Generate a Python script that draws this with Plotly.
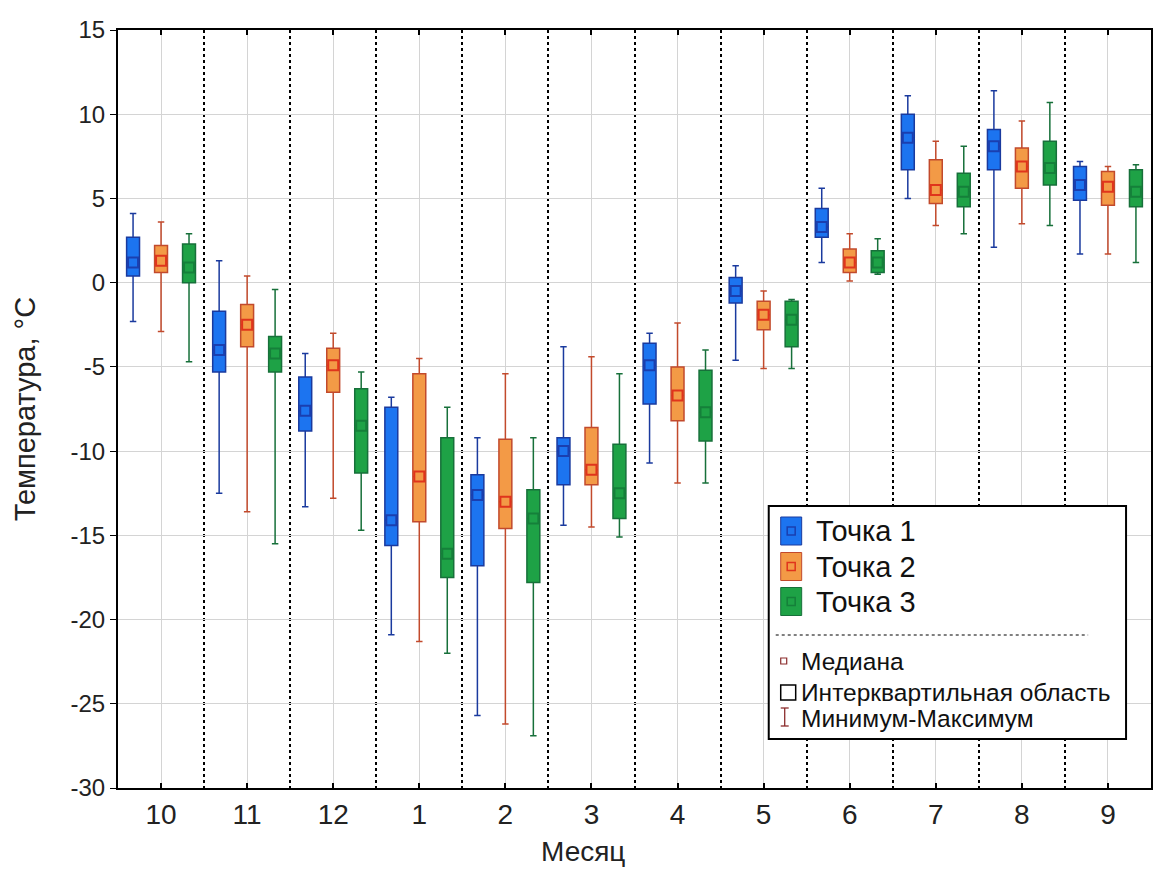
import plotly.graph_objects as go

months = ["10", "11", "12", "1", "2", "3", "4", "5", "6", "7", "8", "9"]
series_names = ["Точка 1", "Точка 2", "Точка 3"]
y_ticks = [15, 10, 5, 0, -5, -10, -15, -20, -25, -30]

# Точка 1
p1_min = [-2.3, -12.5, -13.3, -20.9, -25.7, -14.4, -10.7, -4.6, 1.2, 5.0, 2.1, 1.7]
p1_q1 = [0.4, -5.3, -8.8, -15.6, -16.8, -12.0, -7.2, -1.2, 2.7, 6.7, 6.7, 4.9]
p1_med = [1.2, -4.0, -7.6, -14.1, -12.6, -10.0, -4.9, -0.5, 3.3, 8.6, 8.1, 5.8]
p1_q3 = [2.7, -1.7, -5.6, -7.4, -11.4, -9.2, -3.6, 0.3, 4.4, 10.0, 9.1, 6.9]
p1_max = [4.1, 1.3, -4.2, -6.8, -9.2, -3.8, -3.0, 1.0, 5.6, 11.1, 11.4, 7.2]

# Точка 2
p2_min = [-2.9, -13.6, -12.8, -21.3, -26.2, -14.5, -11.9, -5.1, 0.1, 3.4, 3.5, 1.7]
p2_q1 = [0.6, -3.8, -6.5, -14.2, -14.6, -12.0, -8.2, -2.8, 0.6, 4.7, 5.6, 4.6]
p2_med = [1.3, -2.5, -4.9, -11.5, -13.0, -11.1, -6.7, -1.9, 1.2, 5.5, 6.9, 5.7]
p2_q3 = [2.2, -1.3, -3.9, -5.4, -9.3, -8.6, -5.0, -1.1, 2.0, 7.3, 8.0, 6.6]
p2_max = [3.6, 0.4, -3.0, -4.5, -5.4, -4.4, -2.4, -0.5, 2.9, 8.4, 9.6, 6.9]

# Точка 3
p3_min = [-4.7, -15.5, -14.7, -22.0, -26.9, -15.1, -11.9, -5.1, 0.5, 2.9, 3.4, 1.2]
p3_q1 = [0.0, -5.3, -11.3, -17.5, -17.8, -14.0, -9.4, -3.8, 0.6, 4.5, 5.8, 4.5]
p3_med = [0.9, -4.2, -8.5, -16.1, -14.0, -12.5, -7.7, -2.2, 1.2, 5.4, 6.8, 5.4]
p3_q3 = [2.3, -3.2, -6.3, -9.2, -12.3, -9.6, -5.2, -1.1, 1.9, 6.5, 8.4, 6.7]
p3_max = [2.9, -0.4, -5.3, -7.4, -9.2, -5.4, -4.0, -1.0, 2.6, 8.1, 10.7, 7.0]

fill_colors = ["#1c74f0", "#f39a46", "#1ea246"]
line_colors = ["#1a3a9e", "#c24a2c", "#17703a"]
median_edge = ["#1a3fb0", "#e0341c", "#15803a"]

offsets = [-0.325, 0.0, 0.325]
data = [
    (p1_min, p1_q1, p1_med, p1_q3, p1_max),
    (p2_min, p2_q1, p2_med, p2_q3, p2_max),
    (p3_min, p3_q1, p3_med, p3_q3, p3_max),
]

fig = go.Figure()
for k, (mn, q1, md, q3, mx) in enumerate(data):
    xs = [i + offsets[k] for i in range(len(months))]
    fig.add_trace(go.Box(
        x=xs, q1=q1, median=md, q3=q3, lowerfence=mn, upperfence=mx,
        width=0.15, whiskerwidth=0.5,
        fillcolor=fill_colors[k], line=dict(color=line_colors[k], width=1.5),
        boxpoints=False, name=series_names[k], showlegend=False, hoverinfo="skip",
    ))
for k, (mn, q1, md, q3, mx) in enumerate(data):
    xs = [i + offsets[k] for i in range(len(months))]
    fig.add_trace(go.Scatter(
        x=xs, y=md, mode="markers", showlegend=False, hoverinfo="skip",
        marker=dict(symbol="square", size=10, color=fill_colors[k],
                    line=dict(color=median_edge[k], width=2)),
    ))

W, H = 1153, 888
L, R, T, B = 118, 1153, 30, 788


def px(x):
    return (x - L) / (R - L)


def py(y):
    return (B - y) / (B - T)


shapes = []
ann = []
# legend frame
shapes.append(dict(type="rect", xref="paper", yref="paper", x0=px(770), x1=px(1128), y0=py(739), y1=py(506),
                   line=dict(color="black", width=2), fillcolor="white", layer="above"))
row_y = [531, 566.5, 601.5]
for k in range(3):
    cy = row_y[k]
    shapes.append(dict(type="rect", xref="paper", yref="paper", x0=px(782), x1=px(803), y0=py(cy + 14), y1=py(cy - 14),
                       line=dict(color=line_colors[k], width=1), fillcolor=fill_colors[k], layer="above"))
    shapes.append(dict(type="rect", xref="paper", yref="paper", x0=px(788.5), x1=px(796.5), y0=py(cy + 4), y1=py(cy - 4),
                       line=dict(color=median_edge[k], width=1.5), fillcolor=fill_colors[k], layer="above"))
    ann.append(dict(text=series_names[k], xref="paper", yref="paper", x=px(815), y=py(cy), xanchor="left",
                    yanchor="middle", showarrow=False, font=dict(size=29, color="#111", family="Liberation Sans, Arial")))
shapes.append(dict(type="line", xref="paper", yref="paper", x0=px(777), x1=px(1090), y0=py(635), y1=py(635),
                   line=dict(color="black", width=1, dash="dot"), layer="above"))
# small legend items
shapes.append(dict(type="rect", xref="paper", yref="paper", x0=px(782), x1=px(788), y0=py(664), y1=py(658),
                   line=dict(color="#8b2c2c", width=1.2), fillcolor="white", layer="above"))
shapes.append(dict(type="rect", xref="paper", yref="paper", x0=px(782), x1=px(797), y0=py(700), y1=py(685),
                   line=dict(color="black", width=1.5), fillcolor="white", layer="above"))
shapes.append(dict(type="line", xref="paper", yref="paper", x0=px(786), x1=px(786), y0=py(726), y1=py(708),
                   line=dict(color="#8b2c2c", width=1.3), layer="above"))
shapes.append(dict(type="line", xref="paper", yref="paper", x0=px(782), x1=px(790), y0=py(708), y1=py(708),
                   line=dict(color="#8b2c2c", width=1.3), layer="above"))
shapes.append(dict(type="line", xref="paper", yref="paper", x0=px(782), x1=px(790), y0=py(726), y1=py(726),
                   line=dict(color="#8b2c2c", width=1.3), layer="above"))
small_items = [("Медиана", 661), ("Интерквартильная область", 692), ("Минимум-Максимум", 718)]
for txt, cy in small_items:
    ann.append(dict(text=txt, xref="paper", yref="paper", x=px(800), y=py(cy), xanchor="left", yanchor="middle",
                    showarrow=False, font=dict(size=24.5, color="#111", family="Liberation Sans, Arial")))

# x-axis title
ann.append(dict(text="Месяц", xref="paper", yref="paper", x=px(584), y=py(851), xanchor="center", yanchor="middle",
                showarrow=False, font=dict(size=28, color="#222", family="Liberation Sans Narrow, Liberation Sans, Arial")))

fig.update_layout(
    width=W, height=H,
    margin=dict(l=L, r=W - R, t=T, b=H - B),
    paper_bgcolor="white", plot_bgcolor="white",
    boxmode="overlay",
    showlegend=False,
    shapes=shapes, annotations=ann,
    font=dict(family="Liberation Sans, Arial", color="#222"),
)
fig.update_xaxes(
    range=[-0.5, len(months) - 0.5],
    tickmode="array", tickvals=list(range(len(months))), ticktext=months,
    tickfont=dict(size=28, family="Liberation Sans Narrow, Liberation Sans, Arial", color="#222"),
    ticks="inside", ticklen=5, tickcolor="black", tickwidth=1.5,
    showgrid=True, gridcolor="#d4d4d4", gridwidth=1,
    minor=dict(tickmode="linear", tick0=0.5, dtick=1, showgrid=True, gridcolor="black", griddash="dot", gridwidth=1.6),
    showline=True, linecolor="black", linewidth=2, mirror="ticks",
    zeroline=False, fixedrange=True,
)
fig.update_yaxes(
    range=[-30, 15],
    tickmode="array", tickvals=y_ticks, ticktext=[str(v) for v in y_ticks],
    tickfont=dict(size=24, color="#222"),
    ticks="outside", ticklen=6, tickcolor="black", tickwidth=1,
    showgrid=True, gridcolor="#d4d4d4", gridwidth=1,
    showline=True, linecolor="black", linewidth=2, mirror=True,
    zeroline=False,
    title=dict(text="Температура, °С", font=dict(size=29, family="Liberation Sans Narrow, Liberation Sans, Arial", color="#222"), standoff=26),
)

fig.write_html("out.html")
